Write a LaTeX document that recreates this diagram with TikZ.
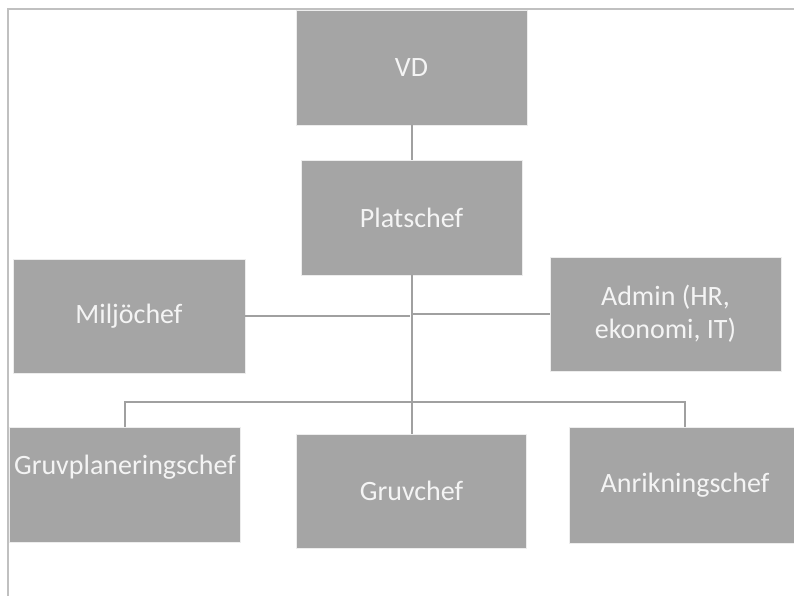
\documentclass[tikz,border=0pt]{standalone}
\usepackage{fontspec}
\setmainfont{Carlito}
\definecolor{boxfill}{HTML}{A5A5A5}
\definecolor{boxtext}{HTML}{F4F4F4}
\definecolor{linkcol}{HTML}{A0A0A0}
\definecolor{framecol}{HTML}{C0C0C0}
\begin{document}
\begin{tikzpicture}[x=0.75pt,y=-0.75pt,
  orgbox/.style={rectangle,fill=boxfill,draw=white!80!boxfill,line width=0.6pt,
    text=boxtext,font=\fontsize{21}{24.75}\selectfont,align=center,inner sep=0pt},
  orgtext/.style={text=boxtext,font=\fontsize{21}{24.75}\selectfont,align=center,inner sep=0pt},
  link/.style={draw=linkcol,line width=1.5pt},
  framel/.style={draw=framecol,line width=1.3pt}]
\useasboundingbox (0,0) rectangle (794,596);
\draw[framel] (8,596) -- (8,9) -- (794,9);
% boxes
\node[orgbox,minimum width=173.25pt,minimum height=86.25pt] (vd) at (411.5,67.5) {VD};
\node[orgbox,minimum width=165.75pt,minimum height=86.25pt] (pc) at (411.5,217.5) {Platschef};
\node[orgbox,minimum width=174pt,minimum height=85.5pt] (mc) at (129,316) {Milj\"ochef};
\node[orgbox,minimum width=173.25pt,minimum height=85.5pt] (ad) at (665.5,314) {Admin (HR,\\ekonomi, IT)};
\node[orgbox,minimum width=173.25pt,minimum height=86.25pt] (gp) at (124.5,484.5) {};
\node[orgtext] (gpt) at (125,467) {Gruvplaneringschef};
\node[orgbox,minimum width=172.5pt,minimum height=85.5pt] (gc) at (411.5,491) {Gruvchef};
\node[orgbox,minimum width=174pt,minimum height=87pt] (an) at (685,485) {Anrikningschef};
% connectors
\coordinate (bus) at (411.5,402);
\draw[link] (vd.south) -- (pc.south |- vd.south) -- (pc.north);
\draw[link] (pc.south) -- (gc.north);
\draw[link] (mc.east) -- ([xshift=-1.5pt]mc.east -| pc.south);
\draw[link] (ad.west) -- (ad.west -| pc.south);
\draw[link] (gp.north) |- (bus) -| (an.north);
\end{tikzpicture}
\end{document}
